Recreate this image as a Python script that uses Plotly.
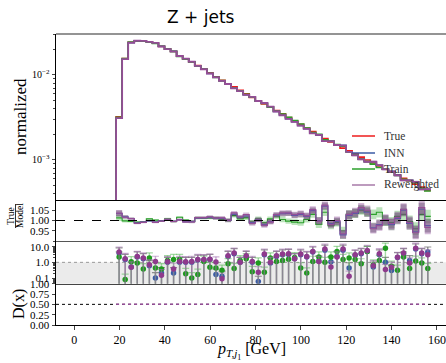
import numpy as np
import plotly.graph_objects as go

# ---------------- data ----------------
bin_edges = np.linspace(18.5, 157.3, 53)

hist_true = [0.00321, 0.01556, 0.0241, 0.0248, 0.0248, 0.0244, 0.0235, 0.0216, 0.0202, 0.0188,
             0.0167, 0.0154, 0.0142, 0.0129, 0.0118, 0.01056, 0.00947, 0.00861, 0.00783, 0.00722,
             0.00657, 0.00598, 0.00543, 0.00494, 0.00456, 0.00420, 0.00382, 0.00348, 0.00316, 0.00288,
             0.00262, 0.00238, 0.00216, 0.00197, 0.00179, 0.00163, 0.00150, 0.00138, 0.00128, 0.00118,
             0.00108, 0.00100, 0.00092, 0.00085, 0.00078, 0.00072, 0.00067, 0.00061, 0.00057, 0.00052,
             0.00048, 0.00044]

ratio_rw = [1.036, 1.016, 1.009, 0.986, 0.991, 1.0, 0.991, 0.997, 1.006, 0.995, 1.003, 0.993, 0.993, 1.014, 1.014,
            1.018, 1.013, 1.013, 1.002, 1.037, 1.018, 1.029, 0.985, 1.002, 0.976, 0.992, 1.029, 1.037, 1.037, 1.029,
            1.034, 1.024, 1.053, 0.997,
            1.075, 0.98, 1.0, 0.935, 1.03, 1.04, 1.063, 1.05, 0.96, 0.975, 1.005, 0.985, 1.015, 1.055, 0.99, 0.94,
            1.063, 0.966]
ratio_inn = [1.034, 1.018, 1.010, 0.988, 0.993, 0.998, 0.993, 0.999, 1.004, 0.996, 1.004, 0.994, 0.995, 1.012, 1.013,
             1.016, 1.011, 1.010, 1.0, 1.03, 1.016, 1.022, 0.99, 1.004, 0.98, 0.995, 1.026, 1.033, 1.035, 1.025,
             1.03, 1.02, 1.048, 1.0,
             1.07, 0.985, 0.995, 0.93, 1.025, 1.035, 1.055, 1.04, 0.965, 0.98, 1.0, 0.98, 1.01, 1.05, 0.985, 0.945,
             1.055, 0.975]
ratio_train = [1.013, 0.998, 0.995, 0.992, 0.992, 1.008, 1.002, 0.998, 1.008, 0.995, 1.016, 1.002, 0.995, 1.013, 1.011,
               1.013, 1.013, 1.005, 1.002, 1.024, 1.008, 1.013, 0.992, 1.008, 0.989, 1.008, 1.021, 1.005, 0.997, 0.992,
               0.989, 1.005, 1.029, 0.981,
               1.04, 0.975, 0.99, 0.95, 1.03, 1.035, 1.05, 1.045, 1.03, 1.04, 1.0, 0.99, 1.02, 1.03, 0.995, 0.96,
               1.03, 1.02]
rel_err = [0.015, 0.008, 0.005, 0.004, 0.004, 0.004, 0.004, 0.004, 0.005, 0.005,
           0.005, 0.005, 0.006, 0.006, 0.006, 0.007, 0.007, 0.008, 0.008, 0.009,
           0.009, 0.010, 0.010, 0.011, 0.011, 0.012, 0.012, 0.013, 0.013, 0.014,
           0.015, 0.015, 0.016, 0.017, 0.018, 0.018, 0.019, 0.020, 0.021, 0.022,
           0.022, 0.023, 0.024, 0.025, 0.026, 0.027, 0.028, 0.029, 0.030, 0.031,
           0.032, 0.033]

pull_rw = [4.5, 1.7, 0.48, 2.4, 1.9, 0.7, 1.15, 0.15, 1.1, 0.38, 1.15, 1.1, 1.15, 1.5, 1.5,
           1.6, 1.05, 0.09, 2.6, 3.9, 1.0, 2.6, 1.15, 0.23, 3.4, 1.0, 2.6, 3.4, 3.5, 1.7, 3.4, 2.4, 5.0, 1.15,
           7.0, 0.5, 2.2, 7.0, 0.13, 3.0, 3.9, 5.7, 0.6, 3.5, 0.35, 0.48, 2.1, 3.9, 0.9, 8.0, 3.9, 3.0]
pull_train = [2.2, 0.08, 1.1, 0.9, 0.38, 1.9, 0.44, 0.38, 1.3, 1.5, 1.5, 0.19, 0.1, 0.17, 1.15,
              0.48, 0.44, 0.31, 0.82, 0.4, 1.3, 1.7, 0.25, 0.9, 0.23, 1.9, 1.15, 1.3, 1.6, 2.0, 0.44, 0.21, 1.15, 2.2,
              1.0, 2.2, 5.0, 1.5, 1.9, 1.5, 0.8, 5.0, 0.68, 1.3, 8.0, 0.56, 0.31, 2.2, 0.4, 1.2, 0.9, 0.4]
pull_inn = [4.0, 1.5, 0.5, 2.2, 1.7, 0.6, 0.1, 0.21, 1.0, 0.21, 1.0, 1.0, 1.0, 1.4, 1.4,
            1.5, 0.17, 0.13, 2.4, 3.5, 1.0, 2.4, 1.0, 0.06, 3.0, 0.9, 2.4, 3.0, 3.2, 1.7, 3.0, 2.2, 4.5, 1.2,
            6.0, 1.1, 2.4, 6.0, 0.44, 2.8, 3.5, 5.0, 0.5, 3.0, 1.0, 0.3, 2.0, 3.5, 1.3, 7.0, 3.5, 4.5]
err_rw = [5.0, 2.0, 0.6, 2.6, 2.1, 0.8, 1.3, 0.2, 1.2, 0.5, 1.3, 1.2, 1.3, 1.7, 1.6,
          1.8, 1.2, 0.12, 2.9, 4.3, 1.1, 2.9, 1.3, 0.3, 3.7, 1.1, 2.9, 3.7, 3.8, 1.9, 3.7, 2.6, 5.5, 1.3,
          7.7, 0.6, 2.4, 7.7, 0.15, 3.3, 4.3, 6.3, 0.7, 3.9, 0.4, 0.55, 2.3, 4.3, 1.0, 8.8, 4.3, 3.3]
err_train = [2.4, 0.1, 1.2, 1.0, 0.45, 2.1, 0.5, 0.45, 1.4, 1.7, 1.7, 0.22, 0.12, 0.2, 1.3,
             0.55, 0.5, 0.35, 0.9, 0.45, 1.4, 1.9, 0.3, 1.0, 0.26, 2.1, 1.3, 1.4, 1.8, 2.2, 0.5, 0.24, 1.3, 2.4,
             1.1, 2.4, 5.5, 1.7, 2.1, 1.7, 0.9, 5.5, 0.75, 1.4, 8.8, 0.62, 0.35, 2.4, 0.45, 1.3, 1.0, 0.45]
err_inn = [4.4, 1.7, 0.55, 2.4, 1.9, 0.7, 0.12, 0.25, 1.1, 0.25, 1.1, 1.1, 1.1, 1.5, 1.5,
           1.7, 0.2, 0.15, 2.6, 3.9, 1.1, 2.6, 1.1, 0.07, 3.3, 1.0, 2.6, 3.3, 3.5, 1.9, 3.3, 2.4, 5.0, 1.3,
           6.6, 1.2, 2.6, 6.6, 0.5, 3.1, 3.9, 5.5, 0.55, 3.3, 1.1, 0.35, 2.2, 3.9, 1.4, 7.7, 3.9, 5.0]

disc_rw = [0.5, 0.5, 0.5, 0.5, 0.5, 0.5, 0.5, 0.5, 0.5, 0.5, 0.5, 0.5, 0.5,
           0.5, 0.5, 0.5, 0.5, 0.5, 0.5, 0.5, 0.5, 0.5, 0.5, 0.5, 0.5, 0.5,
           0.5, 0.5, 0.5, 0.5, 0.5, 0.5, 0.5, 0.5, 0.5, 0.5, 0.5, 0.5, 0.5,
           0.5, 0.5, 0.5, 0.5, 0.5, 0.5, 0.5, 0.5, 0.5, 0.5, 0.5, 0.5, 0.5]

legend_labels = ["True", "INN", "Train", "Reweighted"]
x_ticks = [0, 20, 40, 60, 80, 100, 120, 140, 160]

# ---------------- styling ----------------
C_TRUE = "#ee1c1c"
C_INN = "#3b5ba5"
C_TRAIN = "#2ca02c"
C_RW = "#954d97"
SERIF = "Liberation Serif"

W, H = 446, 363
ML, MR, MT, MB = 56, 0, 34, 38
PW, PH = W - ML - MR, H - MT - MB


def px(x):
    return (x - ML) / PW


def py(y):
    return (H - MB - y) / PH


d1 = [py(200), 1.0]
d2 = [py(241), py(200)]
d3 = [py(283.7), py(241)]
d4 = [0.0, py(283.7)]

true = np.array(hist_true)
m_inn = true / np.array(ratio_inn)
m_train = true / np.array(ratio_train)
m_rw = true / np.array(ratio_rw)
rerr = np.array(rel_err)
edges = bin_edges
centers = 0.5 * (edges[:-1] + edges[1:])


def step_main(vals):
    xs = [edges[0]] + list(edges)
    ys = [1e-9] + list(vals) + [vals[-1]]
    return xs, ys


def step_r(vals):
    return list(edges), list(vals) + [vals[-1]]


fig = go.Figure()

# ---- panel 1 ----
for vals, col in [(true, C_TRUE), (m_inn, C_INN), (m_train, C_TRAIN)]:
    xs, ys = step_main(vals)
    fig.add_trace(go.Scatter(x=xs, y=ys, mode="lines", line=dict(color=col, width=1.6, shape="hv"),
                             xaxis="x", yaxis="y", showlegend=False, hoverinfo="skip"))
xs, lo = step_main(m_rw * (1 - rerr))
_, hi = step_main(m_rw * (1 + rerr))
fig.add_trace(go.Scatter(x=xs, y=lo, mode="lines", line=dict(width=0, shape="hv"),
                         xaxis="x", yaxis="y", showlegend=False, hoverinfo="skip"))
fig.add_trace(go.Scatter(x=xs, y=hi, mode="lines", line=dict(width=0, shape="hv"), fill="tonexty",
                         fillcolor="rgba(120,90,130,0.45)", xaxis="x", yaxis="y", showlegend=False,
                         hoverinfo="skip"))
xs, ys = step_main(m_rw)
fig.add_trace(go.Scatter(x=xs, y=ys, mode="lines", line=dict(color=C_RW, width=1.8, shape="hv"),
                         xaxis="x", yaxis="y", showlegend=False, hoverinfo="skip"))

# ---- panel 2 ----
for r, fillc, linec in [(np.array(ratio_train), "rgba(60,175,60,0.35)", C_TRAIN),
                        (np.array(ratio_inn), "rgba(60,60,70,0.45)", C_INN),
                        (np.array(ratio_rw), "rgba(150,85,160,0.42)", C_RW)]:
    xs, lo = step_r(r - rerr)
    _, hi = step_r(r + rerr)
    fig.add_trace(go.Scatter(x=xs, y=lo, mode="lines", line=dict(width=0, shape="hv"),
                             xaxis="x2", yaxis="y2", showlegend=False, hoverinfo="skip"))
    fig.add_trace(go.Scatter(x=xs, y=hi, mode="lines", line=dict(width=0, shape="hv"), fill="tonexty",
                             fillcolor=fillc, xaxis="x2", yaxis="y2", showlegend=False, hoverinfo="skip"))
    xs, ys = step_r(r)
    fig.add_trace(go.Scatter(x=xs, y=ys, mode="lines", line=dict(color=linec, width=1.1, shape="hv"),
                             xaxis="x2", yaxis="y2", showlegend=False, hoverinfo="skip"))

# ---- panel 3 ----
for vals, errs, linec, ptc in [(pull_inn, err_inn, "rgba(110,110,110,0.75)", C_INN),
                               (pull_train, err_train, "rgba(90,185,90,0.55)", "#1f9a1f"),
                               (pull_rw, err_rw, "rgba(160,110,175,0.55)", "#8e3a8c")]:
    lx, ly = [], []
    for c, v, e in zip(centers, vals, errs):
        low = v - e
        if low <= 0:
            low = 1e-3
        lx += [c, c, None]
        ly += [low, v + e, None]
    fig.add_trace(go.Scatter(x=lx, y=ly, mode="lines", line=dict(color=linec, width=1.4),
                             xaxis="x3", yaxis="y3", showlegend=False, hoverinfo="skip"))
    fig.add_trace(go.Scatter(x=centers, y=np.array(vals) + np.array(errs), mode="markers",
                             marker=dict(symbol="line-ew", size=5, line=dict(color=linec, width=1.2)),
                             xaxis="x3", yaxis="y3", showlegend=False, hoverinfo="skip"))
    fig.add_trace(go.Scatter(x=centers, y=vals, mode="markers",
                             marker=dict(color=ptc, size=5.5),
                             xaxis="x3", yaxis="y3", showlegend=False, hoverinfo="skip"))

# ---- panel 4 ----
fig.add_trace(go.Scatter(x=edges[:-1], y=disc_rw, mode="lines",
                         line=dict(color=C_RW, width=1.5, dash="dot"),
                         xaxis="x4", yaxis="y4", showlegend=False, hoverinfo="skip"))

# ---------------- layout ----------------
tickfont = dict(family=SERIF, size=11, color="black")
xcommon = dict(range=[-8, 164], domain=[0, 1], showgrid=False, zeroline=False, showline=True,
               linewidth=1)
fig.update_layout(
    width=W, height=H, margin=dict(l=ML, r=MR, t=MT, b=MB),
    paper_bgcolor="white", plot_bgcolor="white",
    xaxis=dict(**xcommon, anchor="y", matches="x4", showticklabels=False, ticks="", linecolor="black"),
    xaxis2=dict(**xcommon, anchor="y2", matches="x4", showticklabels=False, ticks="", linecolor="#555555"),
    xaxis3=dict(**xcommon, anchor="y3", matches="x4", showticklabels=False, ticks="", linecolor="#444444"),
    xaxis4=dict(**xcommon, anchor="y4", linecolor="black", ticks="outside", ticklen=3.5, tickwidth=0.8,
                tickmode="array", tickvals=x_ticks, ticktext=[str(t) for t in x_ticks],
                tickfont=dict(family=SERIF, size=12, color="black")),
    yaxis=dict(domain=d1, anchor="x", type="log", range=[-3.47, -1.52], showgrid=False, zeroline=False,
               showline=True, linecolor="black", linewidth=1, ticks="outside", ticklen=3.5, tickwidth=0.8,
               tickmode="array", tickvals=[0.001, 0.01], ticktext=["10<sup>−3</sup>", "10<sup>−2</sup>"],
               tickfont=dict(family=SERIF, size=10, color="black"),
               minor=dict(ticks="outside", ticklen=2, tickwidth=0.6, tickmode="array",
                          tickvals=[0.0004, 0.0005, 0.0006, 0.0007, 0.0008, 0.0009,
                                    0.002, 0.003, 0.004, 0.005, 0.006, 0.007, 0.008, 0.009, 0.02, 0.03])),
    yaxis2=dict(domain=d2, anchor="x2", range=[0.9, 1.1], showgrid=False, zeroline=False, showline=True,
                linecolor="black", linewidth=1, ticks="outside", ticklen=3.5, tickwidth=0.8,
                tickmode="array", tickvals=[0.95, 1.0, 1.05], ticktext=["0.95", "1.00", "1.05"],
                tickfont=tickfont),
    yaxis3=dict(domain=d3, anchor="x3", type="log", range=[-1.36, 1.36], showgrid=False, zeroline=False,
                showline=True, linecolor="black", linewidth=1, ticks="outside", ticklen=3.5, tickwidth=0.8,
                tickmode="array", tickvals=[0.1, 1, 10], ticktext=["0.1", "1.0", "10.0"], tickfont=tickfont,
                minor=dict(ticks="outside", ticklen=2, tickwidth=0.6, tickmode="array",
                           tickvals=[0.05, 0.06, 0.07, 0.08, 0.09, 0.2, 0.3, 0.4, 0.5, 0.6, 0.7, 0.8, 0.9,
                                     2, 3, 4, 5, 6, 7, 8, 9, 20])),
    yaxis4=dict(domain=d4, anchor="x4", range=[0, 1], showgrid=False, zeroline=False, showline=True,
                linecolor="black", linewidth=1, ticks="outside", ticklen=3.5, tickwidth=0.8,
                tickmode="array", tickvals=[0, 0.25, 0.5, 0.75, 1.0],
                ticktext=["0.00", "0.25", "0.50", "0.75", "1.00"], tickfont=tickfont),
)

shapes = [
    # top spine
    dict(type="line", xref="paper", yref="paper", x0=0, x1=1, y0=1, y1=1,
         line=dict(color="#707070", width=1.5)),
    # panel 3 shading below 1
    dict(type="rect", xref="paper", yref="y3 domain", x0=0, x1=1, y0=0, y1=0.5,
         fillcolor="#ebebeb", line=dict(width=0), layer="below"),
    dict(type="line", xref="paper", yref="y3 domain", x0=0, x1=1, y0=0.5, y1=0.5,
         line=dict(color="#999999", width=1, dash="dot"), layer="below"),
    # ratio reference
    dict(type="line", xref="paper", yref="y2", x0=0, x1=1, y0=1, y1=1,
         line=dict(color="black", width=1.1, dash="dash")),
    # discriminator reference
    dict(type="line", xref="paper", yref="y4", x0=0, x1=1, y0=0.5, y1=0.5,
         line=dict(color="black", width=1, dash="dot"), layer="below"),
]

annotations = []
leg_cols = [C_TRUE, C_INN, C_TRAIN, "#a77aa8"]
leg_y = [136, 153, 169, 185]
for lab, col, yy in zip(legend_labels, leg_cols, leg_y):
    shapes.append(dict(type="line", xref="paper", yref="paper", x0=px(352), x1=px(375), y0=py(yy), y1=py(yy),
                       line=dict(color=col, width=1.5)))
    annotations.append(dict(text=lab, xref="paper", yref="paper", x=px(382), y=py(yy), xanchor="left",
                            yanchor="middle", showarrow=False,
                            font=dict(family=SERIF, size=11.5, color="#333333")))

annotations += [
    dict(text="Z + jets", xref="paper", yref="paper", x=px(201), y=py(17), xanchor="center", yanchor="middle",
         showarrow=False, font=dict(family="DejaVu Sans", size=17, color="black")),
    dict(text="normalized", xref="paper", yref="paper", x=px(20), y=py(117), xanchor="center",
         yanchor="middle", textangle=-90, showarrow=False, font=dict(family=SERIF, size=17, color="black")),
    dict(text="True", xref="paper", yref="paper", x=px(11), y=py(216), xanchor="center", yanchor="middle",
         textangle=-90, showarrow=False, font=dict(family=SERIF, size=9.5, color="black")),
    dict(text="Model", xref="paper", yref="paper", x=px(20), y=py(216), xanchor="center", yanchor="middle",
         textangle=-90, showarrow=False, font=dict(family=SERIF, size=9.5, color="black")),
    dict(text="D(x)", xref="paper", yref="paper", x=px(19), y=py(304), xanchor="center", yanchor="middle",
         textangle=-90, showarrow=False, font=dict(family=SERIF, size=16, color="black")),
    dict(text="<i>p</i><sub><i>T,j</i><sub>1</sub></sub> [GeV]", xref="paper", yref="paper", x=px(251),
         y=py(351), xanchor="center", yanchor="middle", showarrow=False,
         font=dict(family=SERIF, size=16, color="black")),
]
shapes.append(dict(type="line", xref="paper", yref="paper", x0=px(15.5), x1=px(15.5), y0=py(204), y1=py(228),
                   line=dict(color="black", width=0.8)))

fig.update_layout(shapes=shapes, annotations=annotations)
fig.write_html("out.html", config={"displayModeBar": False},
               post_script="document.body.style.margin='0';document.body.style.overflow='hidden';")
